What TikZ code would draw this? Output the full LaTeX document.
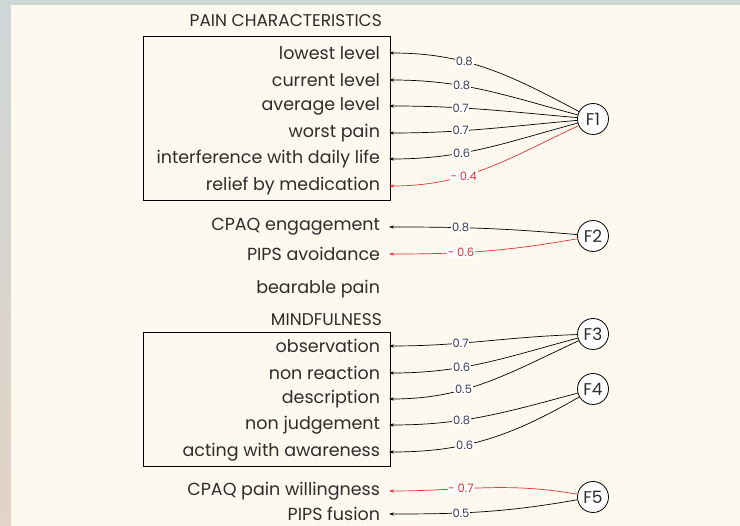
\documentclass[tikz,border=0pt]{standalone}
\usepackage{fontspec}
\setmainfont{Poppins}
\usetikzlibrary{arrows.meta}
\definecolor{bggray}{RGB}{207,214,214}
\definecolor{bgpink}{RGB}{226,212,198}
\definecolor{cream}{RGB}{254,249,238}
\definecolor{txt}{RGB}{45,45,45}
\definecolor{lblgray}{RGB}{60,60,76}
\definecolor{lred}{RGB}{232,48,58}
\tikzset{
  item/.style={anchor=east, inner sep=1pt, outer xsep=8pt, text=txt, font=\fontsize{17.5}{19}\selectfont},
  title/.style={anchor=east, inner sep=1pt, text=txt, font=\fontsize{17}{18}\selectfont},
  fac/.style={circle, draw=black, line width=0.8pt, fill=white, minimum size=31pt, inner sep=0pt, text=txt, font=\fontsize{17}{18}\selectfont},
  ld/.style={-{Stealth[length=5pt,width=3.2pt]}, line width=0.7pt, black},
  ldr/.style={ld, lred},
  lbl/.style={fill=white, inner sep=0.8pt, text=lblgray, font=\fontsize{11.5}{12}\selectfont},
  lblr/.style={lbl, text=lred},
  grp/.style={draw=black, line width=0.7pt}
}
\begin{document}
\begin{tikzpicture}[x=1pt,y=1pt]
\useasboundingbox (0,0) rectangle (740,-526);
% background
\fill[bggray] (0,0) rectangle (740,-526);
\shade[top color=bggray, bottom color=bgpink] (0,0) rectangle (11,-526);
\fill[cream] (11,-5) rectangle (740,-526);

% group boxes
\draw[grp] (143,-36) rectangle (390,-200);
\draw[grp] (143,-332) rectangle (390,-466);

% titles
\node[title] (t1) at (383,-21) {PAIN CHARACTERISTICS};
\node[title] (t2) at (383,-320) {MINDFULNESS};

% items
\node[item] (i1) at (389,-53) {lowest level};
\node[item] (i2) at (389,-80) {current level};
\node[item] (i3) at (389,-106) {average level};
\node[item] (i4) at (389,-133) {worst pain};
\node[item] (i5) at (389,-159) {interference with daily life};
\node[item] (i6) at (389,-186) {relief by medication};
\node[item] (i7) at (389,-227) {CPAQ engagement};
\node[item] (i8) at (389,-254) {PIPS avoidance};
\node[item] (i9) at (389,-289) {bearable pain};
\node[item] (i10) at (389,-346) {observation};
\node[item] (i11) at (389,-373) {non reaction};
\node[item] (i12) at (389,-399) {description};
\node[item] (i13) at (389,-425) {non judgement};
\node[item] (i14) at (389,-452) {acting with awareness};
\node[item] (i15) at (389,-491) {CPAQ pain willingness};
\node[item] (i16) at (389,-514) {PIPS fusion};

% factors
\node[fac] (F1) at (593,-119) {F1};
\node[fac] (F2) at (593,-236) {F2};
\node[fac] (F3) at (593,-334) {F3};
\node[fac] (F4) at (593,-389) {F4};
\node[fac] (F5) at (593,-497) {F5};

% loadings
\draw[ld] (F1) to[out=152,in=0] node[lbl,pos=0.63]{0.8} (i1);
\draw[ld] (F1) to[out=165,in=0] node[lbl,pos=0.63]{0.8} (i2);
\draw[ld] (F1) to[out=175,in=0] node[lbl,pos=0.63]{0.7} (i3);
\draw[ld] (F1) to[out=185,in=0] node[lbl,pos=0.63]{0.7} (i4);
\draw[ld] (F1) to[out=195,in=0] node[lbl,pos=0.63]{0.6} (i5);
\draw[ldr] (F1) to[out=205,in=0] node[lblr,pos=0.63]{- 0.4} (i6);

\draw[ld] (F2) to[out=175,in=0] node[lbl,pos=0.63]{0.8} (i7);
\draw[ldr] (F2) to[out=190,in=0] node[lblr,pos=0.63]{- 0.6} (i8);

\draw[ld] (F3) to[out=182,in=0] node[lbl,pos=0.63]{0.7} (i10);
\draw[ld] (F3) to[out=195,in=0] node[lbl,pos=0.63]{0.6} (i11);
\draw[ld] (F3) to[out=205,in=0] node[lbl,pos=0.63]{0.5} (i12);

\draw[ld] (F4) to[out=195,in=0] node[lbl,pos=0.63]{0.8} (i13);
\draw[ld] (F4) to[out=210,in=0] node[lbl,pos=0.63]{0.6} (i14);

\draw[ldr] (F5) to[out=170,in=0] node[lblr,pos=0.63]{- 0.7} (i15);
\draw[ld] (F5) to[out=190,in=0] node[lbl,pos=0.63]{0.5} (i16);
\end{tikzpicture}
\end{document}
